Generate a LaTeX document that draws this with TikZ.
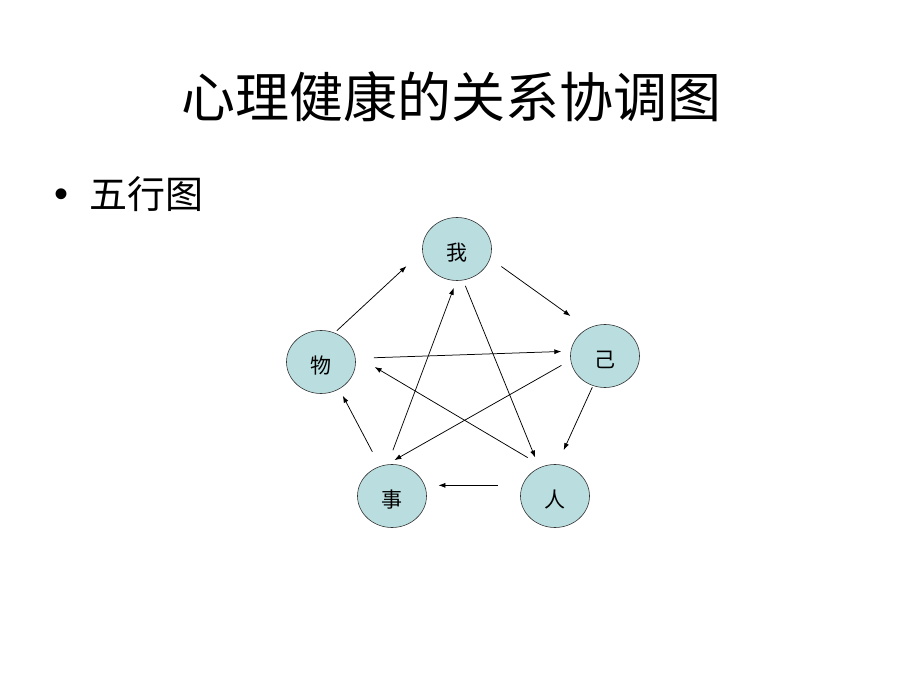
\documentclass[tikz,border=0pt]{standalone}
\usepackage{fontspec}
\setmainfont{Noto Sans CJK SC}
\newfontfamily\latinfont{Liberation Sans}
\usetikzlibrary{shapes.geometric,arrows.meta}
\definecolor{nodefill}{RGB}{186,222,224}
\tikzset{
  xing/.style={ellipse,draw=black!80,line width=0.6pt,fill=nodefill,minimum width=69pt,minimum height=63pt,inner sep=0pt,text height=26pt,text depth=3pt,font=\fontsize{21}{21}\selectfont},
  arr/.style={line width=0.75pt,-{Latex[length=7pt,width=5pt]}}
}
\begin{document}
\begin{tikzpicture}[x=1pt,y=1pt]
	\useasboundingbox (0,0) rectangle (900,675);
	\node (title) at (451,578) {\fontsize{54}{60}\selectfont 心理健康的关系协调图};
	\node[anchor=base,inner sep=0pt] (dot) at (62,467) {\latinfont\fontsize{40}{40}\selectfont •};
	\node[anchor=west,inner sep=0pt] (sub) at (89,481) {\fontsize{38}{40}\selectfont 五行图};
	\node[xing] (wo) at (457,426) {我};
	\node[xing] (ji) at (605,319) {己};
	\node[xing] (wu) at (321,313) {物};
	\node[xing] (shi) at (392,179) {事};
	\node[xing] (ren) at (555,179) {人};
	% outer ring
	\draw[arr,shorten <=3pt,shorten >=21.6pt] (wu.65)--(wo.184);
	\draw[arr,shorten <=13.7pt,shorten >=21.2pt] (wo.344)--(ji.122);
	\draw[arr,shorten <=1.5pt,shorten >=15.5pt] (ji.248)--(ren.86);
	\draw[arr,shorten <=24.6pt,shorten >=13.6pt] (ren.162)--(shi.18);
	\draw[arr,shorten <=16.3pt,shorten >=7.5pt] (shi.112)--(wu.304);
	% inner star
	\draw[arr,shorten <=18.2pt,shorten >=9.3pt] (wu.6)--(ji.172);
	\draw[arr,shorten <=10.5pt,shorten >=9pt] (ji.187)--(shi.100);
	\draw[arr,shorten <=15.2pt,shorten >=7.5pt] (shi.98)--(wo.269);
	\draw[arr,shorten <=6pt,shorten >=10.9pt] (wo.281)--(ren.119);
	\draw[arr,shorten <=17.2pt,shorten >=22.8pt] (ren.113)--(wu.11);
\end{tikzpicture}
\end{document}
